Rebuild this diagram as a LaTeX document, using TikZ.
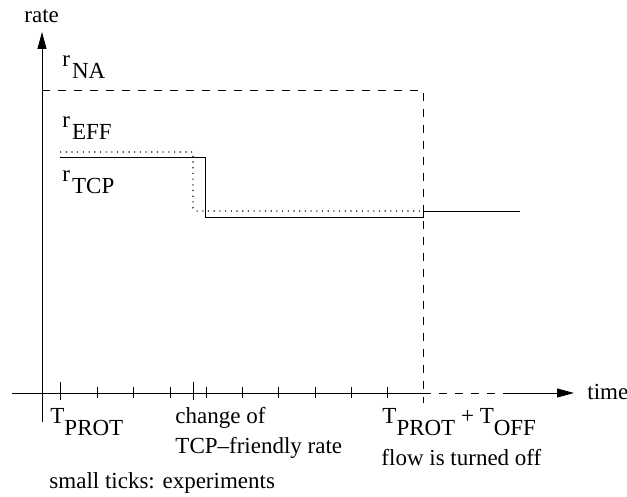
\documentclass[tikz,border=0pt]{standalone}
\usepackage{fontspec}
\setmainfont{Liberation Serif}
\usetikzlibrary{arrows.meta}
\begin{document}
\begin{tikzpicture}[x=1pt,y=-1pt,line width=0.9pt,
  lbl/.style={inner sep=0pt,anchor=base west,font=\fontsize{23}{28}\selectfont},
  dashline/.style={dash pattern=on 8pt off 8pt},
  dotline/.style={line width=1.1pt,dash pattern=on 1.1pt off 4.6pt},
  axisarrow/.style={-{Triangle[length=17pt,width=9pt]}},
  smalltick/.style={line width=0.8pt},
  rateline/.style={line width=0.9pt}]
\useasboundingbox (0,0) rectangle (627,497);
% axes
\coordinate (yb) at (42,422);
\coordinate (yt) at (42,32);
\coordinate (xl) at (12,393);
\coordinate (xo) at (423,393);
\coordinate (xd) at (507,393);
\coordinate (xr) at (574,393);
\draw[axisarrow] (yb) -- (yt);
\draw (xl) -- (xo);
\draw[dashline] (xo) -- (xd);
\draw[axisarrow] (xd) -- (xr);
% ticks
\foreach \x in {97,133,170,206,242,278,315,351,387}
  \draw[smalltick] (\x,387) -- (\x,398);
\foreach \x in {60,193}
  \draw[smalltick] (\x,382) -- (\x,400);
% r_NA
\coordinate (na0) at (42,90);
\coordinate (na1) at (423,90);
\coordinate (na2) at (423,403);
\draw[dashline] (na0) -- (na1) -- (na2);
% r_TCP
\coordinate (t0) at (60,157);
\coordinate (t1) at (205,157);
\coordinate (t2) at (205,217);
\coordinate (t3) at (423,217);
\coordinate (t4) at (423,211);
\coordinate (t5) at (520,211);
\draw[rateline] (t0) -- (t1) -- (t2) -- (t3) -- (t4) -- (t5);
% r_EFF
\coordinate (e0) at (60,152);
\coordinate (e1) at (193,152);
\coordinate (e2) at (193,208);
\coordinate (e3) at (196,211);
\coordinate (e4) at (423,211);
\draw[dotline] (e0) -- (e1) -- (e2) -- (e3) -- (e4);
% labels
\node[lbl] (rate) at (24,23) {rate};
\node[lbl] (time) at (587,399) {time};
\node[lbl] (rna) at (62,67) {r\hspace{2pt}\raisebox{-12pt}{NA}};
\node[lbl] (reff) at (62,128) {r\hspace{2pt}\raisebox{-12pt}{EFF}};
\node[lbl] (rtcp) at (62,182) {r\hspace{2pt}\raisebox{-12pt}{TCP}};
\node[lbl] (tprot) at (50,423) {T\raisebox{-12pt}{PROT}};
\node[lbl] (chg1) at (175,423) {change of};
\node[lbl] (chg2) at (175,453) {TCP–friendly rate};
\node[lbl] (toff) at (382,423) {T\raisebox{-12pt}{PROT} + T\raisebox{-12pt}{OFF}};
\node[lbl] (flow) at (381,465) {flow is turned off};
\node[lbl] (small) at (49,488) {small ticks: experiments};
\end{tikzpicture}
\end{document}
